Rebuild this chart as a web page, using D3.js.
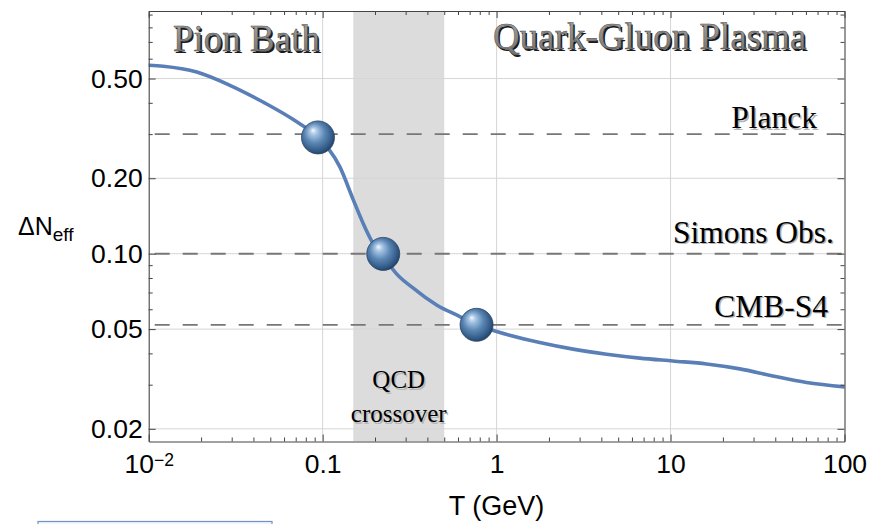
<!DOCTYPE html>
<html>
<head>
<meta charset="utf-8">
<script src="https://cdn.jsdelivr.net/npm/d3@7/dist/d3.min.js"></script>
<style>
  html, body { margin: 0; padding: 0; background: #fff; }
  svg { display: block; }
</style>
</head>
<body>
<svg id="chart" width="871" height="524"></svg>
<script>
// Temperature (GeV) and the corresponding ΔN_eff along the curve
const tempGeV = [0.01, 0.0121, 0.0189, 0.0293, 0.0454, 0.071, 0.094, 0.1256, 0.150, 0.171, 0.195,
                 0.223, 0.255, 0.332, 0.452, 0.615, 0.767, 1.0, 1.77, 2.75, 4.29, 6.66, 10.3,
                 16.1, 25.0, 38.7, 60.5, 100];
const deltaNeff = [0.565, 0.560, 0.531, 0.470, 0.403, 0.336, 0.291, 0.222, 0.164, 0.132, 0.110,
                   0.0998, 0.0861, 0.0728, 0.0624, 0.0561, 0.052, 0.0489, 0.0442, 0.0416, 0.0397,
                   0.0383, 0.0373, 0.0363, 0.0347, 0.0325, 0.0306, 0.0294];

// Experimental sensitivities (dashed lines)
const targetNames  = ["Planck", "Simons Obs.", "CMB-S4"];
const targetValues = [0.3, 0.1, 0.052];

// Where the curve reaches each sensitivity
const markerT  = [0.094, 0.223, 0.767];
const markerDN = [0.291, 0.0998, 0.052];

// QCD crossover window (GeV)
const crossoverRange = [0.15, 0.5];

// Axis ticks
const xMajor = [0.01, 0.1, 1, 10, 100];
const xMajorLabels = ["10", "0.1", "1", "10", "100"];
const xMinor = [];
[0.01, 0.1, 1, 10].forEach(d => { for (let k = 2; k <= 9; k++) xMinor.push(d * k); });
const yMajor = [0.02, 0.05, 0.1, 0.2, 0.5];
const yMajorLabels = ["0.02", "0.05", "0.10", "0.20", "0.50"];
const yMinor = [0.03, 0.04, 0.06, 0.07, 0.08, 0.09, 0.3, 0.4, 0.6, 0.7, 0.8, 0.9];

const L = 148.7, R = 844.5, T = 11, B = 441.5;
const x = d3.scaleLog().domain([0.01, 100]).range([L, R]);
const y = d3.scaleLog().domain([0.0178, 0.93]).range([B, T]);

const svg = d3.select("#chart");
const defs = svg.append("defs");
defs.append("clipPath").attr("id", "plotClip")
  .append("rect").attr("x", L).attr("y", T).attr("width", R - L).attr("height", B - T);

const grad = defs.append("radialGradient").attr("id", "ball")
  .attr("cx", "45%").attr("cy", "45%").attr("r", "60%")
  .attr("fx", "35%").attr("fy", "28%");
[["0%", "#f4f9ff"], ["18%", "#a9c6e4"], ["50%", "#5c88b6"], ["85%", "#2f5682"], ["100%", "#1c3657"]]
  .forEach(([o, c]) => grad.append("stop").attr("offset", o).attr("stop-color", c));

const embossGrad = defs.append("linearGradient").attr("id", "emboss")
  .attr("x1", 0).attr("y1", 0).attr("x2", 0).attr("y2", 1);
embossGrad.append("stop").attr("offset", "0%").attr("stop-color", "#a8a8a8");
embossGrad.append("stop").attr("offset", "100%").attr("stop-color", "#6e6e6e");

const plot = svg.append("g").attr("clip-path", "url(#plotClip)");

// crossover band
plot.append("rect")
  .attr("x", x(crossoverRange[0])).attr("y", T)
  .attr("width", x(crossoverRange[1]) - x(crossoverRange[0])).attr("height", B - T)
  .attr("fill", "#dcdcdc");

// grid
plot.selectAll(".gx").data(xMajor.slice(1, -1)).join("line")
  .attr("x1", d => x(d)).attr("x2", d => x(d)).attr("y1", T).attr("y2", B)
  .attr("stroke", "#d6d6d6").attr("stroke-width", 1);
plot.selectAll(".gy").data(yMajor).join("line")
  .attr("x1", L).attr("x2", R).attr("y1", d => y(d)).attr("y2", d => y(d))
  .attr("stroke", "#d6d6d6").attr("stroke-width", 1);

// sensitivity lines
plot.selectAll(".target").data(targetValues).join("line")
  .attr("x1", L).attr("x2", R).attr("y1", d => y(d)).attr("y2", d => y(d))
  .attr("stroke", "#777").attr("stroke-width", 1.9)
  .attr("stroke-dasharray", "15,13").attr("stroke-dashoffset", -6);

// curve
const pts = tempGeV.map((t, i) => ({ t, n: deltaNeff[i] }));
plot.append("path").datum(pts)
  .attr("fill", "none").attr("stroke", "#5a7fb7").attr("stroke-width", 3.6)
  .attr("stroke-linecap", "round")
  .attr("d", d3.line().x(d => x(d.t)).y(d => y(d.n)).curve(d3.curveMonotoneX));

// markers
svg.selectAll(".ball").data(markerT).join("circle")
  .attr("cx", d => x(d)).attr("cy", (d, i) => y(markerDN[i]))
  .attr("r", 16.5).attr("fill", "url(#ball)")
  .attr("stroke", "#2a4565").attr("stroke-width", 0.8);

// axes
const tickColor = "#444";
function styleAxis(g) {
  g.selectAll("path.domain").attr("stroke", tickColor).attr("stroke-width", 1.1);
  g.selectAll(".tick line").attr("stroke", tickColor).attr("stroke-width", 1);
  g.selectAll("text").attr("fill", "#000").attr("font-family", "'Liberation Sans', Arial, sans-serif")
    .attr("font-size", 26.5);
}
const xb = svg.append("g").attr("transform", `translate(0,${B})`)
  .call(d3.axisBottom(x).tickValues(xMajor).tickSize(-7).tickSizeOuter(0).tickPadding(13)
    .tickFormat((d, i) => xMajorLabels[i]));
styleAxis(xb);
xb.selectAll(".tick text").filter(d => d === 0.01)
  .append("tspan").attr("dy", "-0.42em").attr("font-size", 17.5).text("−2");
const xbm = svg.append("g").attr("transform", `translate(0,${B})`)
  .call(d3.axisBottom(x).tickValues(xMinor).tickSize(-4).tickSizeOuter(0).tickFormat(""));
styleAxis(xbm); xbm.select(".domain").remove();

const xt = svg.append("g").attr("transform", `translate(0,${T})`)
  .call(d3.axisTop(x).tickValues(xMajor).tickSize(-7).tickSizeOuter(0).tickFormat(""));
styleAxis(xt);
const xtm = svg.append("g").attr("transform", `translate(0,${T})`)
  .call(d3.axisTop(x).tickValues(xMinor).tickSize(-4).tickSizeOuter(0).tickFormat(""));
styleAxis(xtm); xtm.select(".domain").remove();

const yl = svg.append("g").attr("transform", `translate(${L},0)`)
  .call(d3.axisLeft(y).tickValues(yMajor).tickSize(-7).tickSizeOuter(0).tickPadding(6)
    .tickFormat((d, i) => yMajorLabels[i]));
styleAxis(yl);
const ylm = svg.append("g").attr("transform", `translate(${L},0)`)
  .call(d3.axisLeft(y).tickValues(yMinor).tickSize(-4).tickSizeOuter(0).tickFormat(""));
styleAxis(ylm); ylm.select(".domain").remove();

const yr = svg.append("g").attr("transform", `translate(${R},0)`)
  .call(d3.axisRight(y).tickValues(yMajor).tickSize(-7).tickSizeOuter(0).tickFormat(""));
styleAxis(yr);
const yrm = svg.append("g").attr("transform", `translate(${R},0)`)
  .call(d3.axisRight(y).tickValues(yMinor).tickSize(-4).tickSizeOuter(0).tickFormat(""));
styleAxis(yrm); yrm.select(".domain").remove();

// axis titles
svg.append("text").attr("x", (L + R) / 2).attr("y", 515).attr("text-anchor", "middle")
  .attr("font-family", "'Liberation Sans', Arial, sans-serif").attr("font-size", 27)
  .text("T (GeV)");
const yt = svg.append("text").attr("x", 18).attr("y", 235)
  .attr("font-family", "'Liberation Sans', Arial, sans-serif").attr("font-size", 25);
yt.append("tspan").text("ΔN");
yt.append("tspan").attr("dy", 6).attr("font-size", 19).text("eff");

// region headings with an embossed look
const serif = "'Liberation Serif', 'Times New Roman', serif";
function emboss(txt, xp, yp) {
  svg.append("text").attr("x", xp + 1.6).attr("y", yp + 1.6)
    .attr("font-family", serif).attr("font-size", 37).attr("fill", "#1a1a1a").text(txt);
  svg.append("text").attr("x", xp).attr("y", yp)
    .attr("font-family", serif).attr("font-size", 37).attr("fill", "url(#emboss)")
    .attr("stroke", "#4a4a4a").attr("stroke-width", 0.5).text(txt);
}
emboss("Pion Bath", 173, 51);
emboss("Quark-Gluon Plasma", 493, 49);

// sensitivity labels
const labelEnds = [817, 834, 828];
const labelRaise = [6, 11, 8];
function shadowText(txt, xp, yp, anchor, size) {
  svg.append("text").attr("x", xp + 1.5).attr("y", yp + 1.5).attr("text-anchor", anchor)
    .attr("font-family", serif).attr("font-size", size).attr("fill", "#b5b5b5").text(txt);
  svg.append("text").attr("x", xp).attr("y", yp).attr("text-anchor", anchor)
    .attr("font-family", serif).attr("font-size", size).attr("fill", "#000").text(txt);
}
targetNames.forEach((nm, i) => shadowText(nm, labelEnds[i], y(targetValues[i]) - labelRaise[i], "end", 31.5));

const bandMid = Math.sqrt(crossoverRange[0] * crossoverRange[1]);
shadowText("QCD", x(bandMid), 388, "middle", 25);
shadowText("crossover", x(bandMid), 422, "middle", 25);

// edge of a text frame along the bottom
svg.append("rect").attr("x", 38).attr("y", 521.5).attr("width", 234).attr("height", 10)
  .attr("fill", "#f3f6fb").attr("stroke", "#6f93c8").attr("stroke-width", 1.2);
</script>
</body>
</html>
